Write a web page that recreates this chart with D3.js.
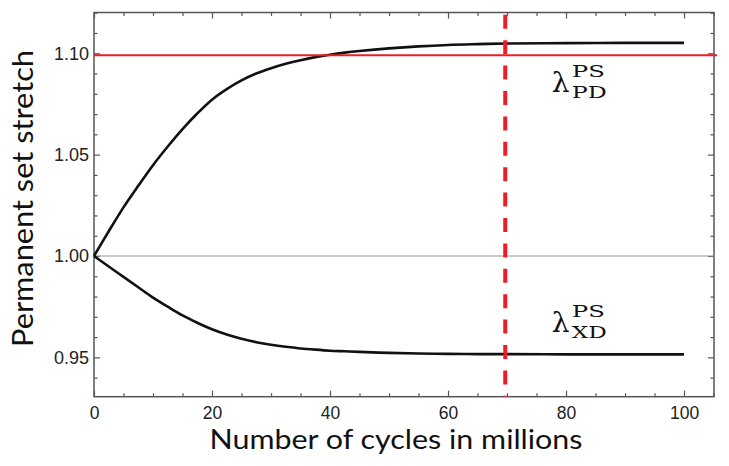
<!DOCTYPE html>
<html>
<head>
<meta charset="utf-8">
<script src="https://cdn.jsdelivr.net/npm/d3@7"></script>
<style>
  body { margin: 0; background: #fff; }
  .tick text { font-family: "Liberation Sans", Arial, sans-serif; fill: #222; }
  .tick line { stroke: #555; stroke-width: 1.2; }
</style>
</head>
<body>
<div id="chart"></div>
<script>
var svgWidth = 729;
var svgHeight = 466;

var margin = { top: 12.5, right: 15, bottom: 69.3, left: 94 };
var width = svgWidth - margin.left - margin.right;
var height = svgHeight - margin.top - margin.bottom;

// Data
var cycles = [0, 2.5, 5, 7.5, 10, 12.5, 15, 17.5, 20, 22.5, 25, 27.5, 30, 32.5, 35, 37.5, 40, 42.5, 45, 50, 55, 60, 65, 70, 80, 90, 100];
var stretchPD = [1.0, 1.0122, 1.0240, 1.0346, 1.0448, 1.0540, 1.0626, 1.0703, 1.0771, 1.0823, 1.0866, 1.0900, 1.0926, 1.0948, 1.0966, 1.0981, 1.0993, 1.1003, 1.1011, 1.1024, 1.1034, 1.1041, 1.1045, 1.1048, 1.1050, 1.1051, 1.1051];
var stretchXD = [1.0, 0.9948, 0.9897, 0.9846, 0.9795, 0.9750, 0.9707, 0.9671, 0.9639, 0.9613, 0.9592, 0.9575, 0.9562, 0.9552, 0.9544, 0.9538, 0.9533, 0.9530, 0.9527, 0.9522, 0.9519, 0.9517, 0.9516, 0.9516, 0.9515, 0.9515, 0.9515];
var limitPD = 1.099;
var markCycles = 69.7;
var xTicks = [0, 20, 40, 60, 80, 100];
var yTicks = [0.95, 1.00, 1.05, 1.10];
var labelNames = ["PD", "XD"];
var labelCycles = [77.6, 77.6];
var labelStretch = [1.0809, 0.9625];

var svg = d3.select("#chart")
    .append("svg")
    .attr("width", svgWidth)
    .attr("height", svgHeight);

var chartGroup = svg.append("g")
    .attr("transform", `translate(${margin.left}, ${margin.top})`);

var xScale = d3.scaleLinear().domain([0, 105.08]).range([0, width]);
var yScale = d3.scaleLinear().domain([0.9306, 1.1201]).range([height, 0]);

var xMinor = d3.range(0, 105.1, 5).filter(d => d % 20 !== 0);
var yMinor = d3.range(94, 113, 1).map(d => d / 100).filter(d => Math.round(d * 100) % 5 !== 0);

// ticks point inward, on all four sides
function addAxis(axis, transform, labels) {
    var g = chartGroup.append("g").attr("transform", transform).call(axis);
    g.select(".domain").remove();
    if (!labels) g.selectAll("text").remove();
    return g;
}

var bottom = addAxis(d3.axisBottom(xScale).tickValues(xTicks).tickSize(-6).tickPadding(10).tickFormat(d3.format("d")),
    `translate(0, ${height})`, true);
bottom.selectAll("text").style("font-size", "17.5px");
addAxis(d3.axisBottom(xScale).tickValues(xMinor).tickSize(-3.5), `translate(0, ${height})`, false);
addAxis(d3.axisTop(xScale).tickValues(xTicks).tickSize(-6), "translate(0, 0)", false);
addAxis(d3.axisTop(xScale).tickValues(xMinor).tickSize(-3.5), "translate(0, 0)", false);

var left = addAxis(d3.axisLeft(yScale).tickValues(yTicks).tickSize(-6).tickPadding(5).tickFormat(d3.format(".2f")),
    "translate(0, 0)", true);
left.selectAll("text").style("font-size", "18px");
left.selectAll(".tick text").attr("x", -5);
addAxis(d3.axisLeft(yScale).tickValues(yMinor).tickSize(-3.5), "translate(0, 0)", false);
addAxis(d3.axisRight(yScale).tickValues(yTicks).tickSize(-6), `translate(${width}, 0)`, false);
addAxis(d3.axisRight(yScale).tickValues(yMinor).tickSize(-3.5), `translate(${width}, 0)`, false);

// frame
chartGroup.append("rect")
    .attr("width", width)
    .attr("height", height)
    .attr("fill", "none")
    .attr("stroke", "#555")
    .attr("stroke-width", 1.5);

// reference line at 1.00
chartGroup.append("line")
    .attr("x1", 0).attr("x2", width)
    .attr("y1", yScale(1)).attr("y2", yScale(1))
    .attr("stroke", "#999")
    .attr("stroke-width", 1.2);

var line = d3.line()
    .x(d => xScale(d[0]))
    .y(d => yScale(d[1]))
    .curve(d3.curveCatmullRom.alpha(0.5));

[stretchPD, stretchXD].forEach(function(series) {
    chartGroup.append("path")
        .datum(cycles.map((c, i) => [c, series[i]]))
        .attr("d", line)
        .attr("fill", "none")
        .attr("stroke", "#111")
        .attr("stroke-width", 2.6);
});

// red limit line
chartGroup.append("line")
    .attr("x1", xScale(0)).attr("x2", width + 3)
    .attr("y1", yScale(limitPD)).attr("y2", yScale(limitPD))
    .attr("stroke", "#ee1c24")
    .attr("stroke-width", 2);

// red dashed vertical
chartGroup.append("line")
    .attr("x1", xScale(markCycles)).attr("x2", xScale(markCycles))
    .attr("y1", 0).attr("y2", height)
    .attr("stroke", "#ee1c24")
    .attr("stroke-width", 4)
    .attr("stroke-dasharray", "14,11.4")
    .attr("stroke-dashoffset", 23.1);

// lambda labels with superscript / subscript
labelNames.forEach(function(name, i) {
    var lx = xScale(labelCycles[i]);
    var ly = yScale(labelStretch[i]);
    var t = chartGroup.append("text")
        .style("font-family", "'DejaVu Serif', serif")
        .style("fill", "#111");
    t.append("tspan").attr("x", lx).attr("y", ly).style("font-size", "28px").text("λ");
    t.append("tspan").attr("x", lx + 20).attr("y", ly - 15)
        .attr("textLength", 33).attr("lengthAdjust", "spacingAndGlyphs")
        .style("font-size", "16px").text("PS");
    t.append("tspan").attr("x", lx + 20).attr("y", ly + 6)
        .attr("textLength", 35).attr("lengthAdjust", "spacingAndGlyphs")
        .style("font-size", "16.5px").text(name);
});

// axis titles
svg.append("text")
    .attr("x", 396)
    .attr("y", 449)
    .attr("text-anchor", "middle")
    .attr("textLength", 373)
    .attr("lengthAdjust", "spacingAndGlyphs")
    .style("font-family", "Lato, sans-serif")
    .style("font-size", "27px")
    .style("fill", "#111")
    .text("Number of cycles in millions");

svg.append("text")
    .attr("transform", "translate(33, 198.5) rotate(-90)")
    .attr("text-anchor", "middle")
    .attr("textLength", 297)
    .attr("lengthAdjust", "spacingAndGlyphs")
    .style("font-family", "Lato, sans-serif")
    .style("font-size", "28px")
    .style("fill", "#111")
    .text("Permanent set stretch");
</script>
</body>
</html>
